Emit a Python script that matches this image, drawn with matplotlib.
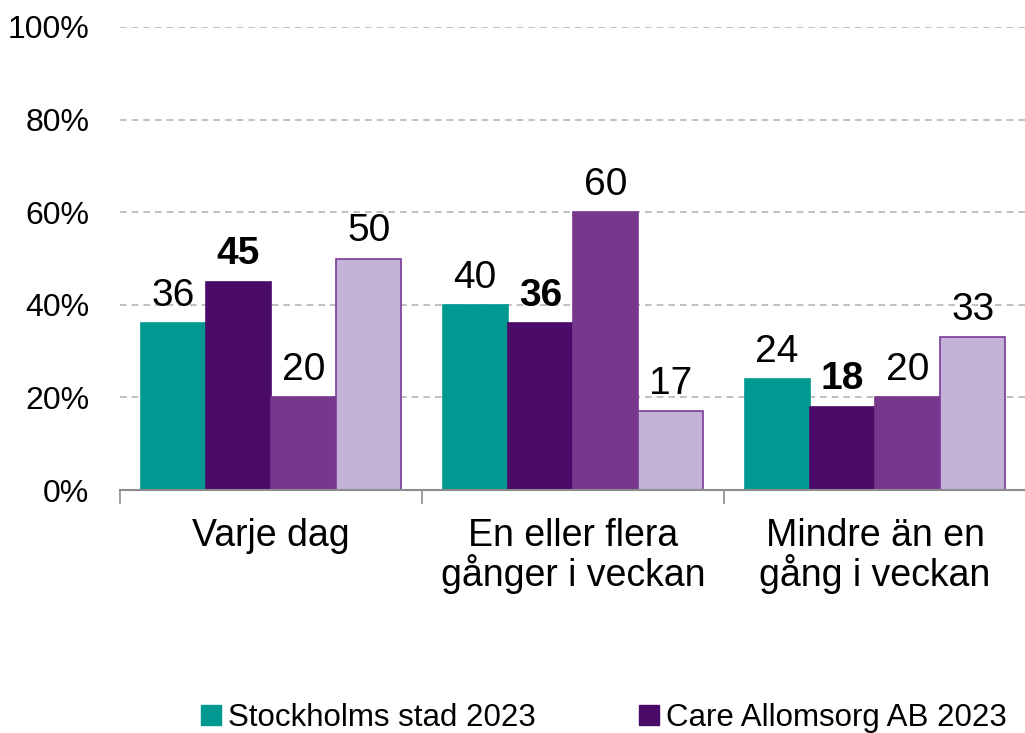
import numpy as np
import matplotlib.pyplot as plt
from matplotlib.lines import Line2D

plt.rcParams['font.family'] = ['Liberation Sans', 'DejaVu Sans']

categories = ['Varje dag', 'En eller flera\ngånger i veckan', 'Mindre än en\ngång i veckan']
series_names = ['Stockholms stad 2023', 'Care Allomsorg AB 2023', 'Serie 3', 'Serie 4']
stockholm = [36, 40, 24]
care = [45, 36, 18]
serie3 = [20, 60, 20]
serie4 = [50, 17, 33]
yticks = [0, 20, 40, 60, 80, 100]

colors = ['#009991', '#4b0b68', '#77378c', '#c4b2d8']
edges = ['#009991', '#4b0b68', '#77378c', '#7a3b9a']
bold = [False, True, False, False]

fig = plt.figure(figsize=(10.25, 7.33), dpi=100)
ax = fig.add_axes([120 / 1025, 1 - 490 / 733, 906 / 1025, 463 / 733])

x = np.arange(len(categories))
w = 0.216
allseries = [stockholm, care, serie3, serie4]
for i, vals in enumerate(allseries):
    pos = x + (i - 1.5) * w
    bars = ax.bar(pos, vals, w, color=colors[i], edgecolor=edges[i],
                  linewidth=1.2, zorder=3)
    for b, v in zip(bars, vals):
        ax.text(b.get_x() + b.get_width() / 2, v + 2.0, str(v),
                ha='center', va='bottom', fontsize=28,
                fontweight='bold' if bold[i] else 'normal')

ax.set_xlim(-0.5, 2.5)
ax.set_ylim(0, 100)
ax.set_yticks(yticks)
ax.set_yticklabels([f'{t}%' for t in yticks], fontsize=23)
ax.yaxis.grid(True, linestyle=(0, (4, 3)), color='#b5b5b5', linewidth=1.2, zorder=0)
ax.tick_params(axis='y', length=0, pad=22)

ax.set_xticks([-0.5, 0.5, 1.5, 2.5])
ax.set_xticklabels([])
ax.set_xticks(x, minor=True)
ax.set_xticklabels(categories, minor=True, fontsize=27, linespacing=1.0)
ax.tick_params(axis='x', which='major', length=10, color='#8c8c8c', width=1.2)
ax.tick_params(axis='x', which='minor', length=0, pad=20)

for s in ['top', 'right', 'left']:
    ax.spines[s].set_visible(False)
ax.spines['bottom'].set_color('#8c8c8c')
ax.spines['bottom'].set_linewidth(1.5)
ax.spines['bottom'].set_zorder(4)

handles = [Line2D([], [], marker='s', linestyle='', markersize=15,
                  color=colors[i]) for i in range(2)]
fig.legend(handles, series_names[:2], loc='center', ncol=2,
           bbox_to_anchor=(0.588, 1 - 718 / 733), frameon=False,
           fontsize=22.5, handletextpad=0.15, columnspacing=3.2,
           handlelength=0.8, borderpad=0.2)

fig.savefig('out.png', dpi=100)
